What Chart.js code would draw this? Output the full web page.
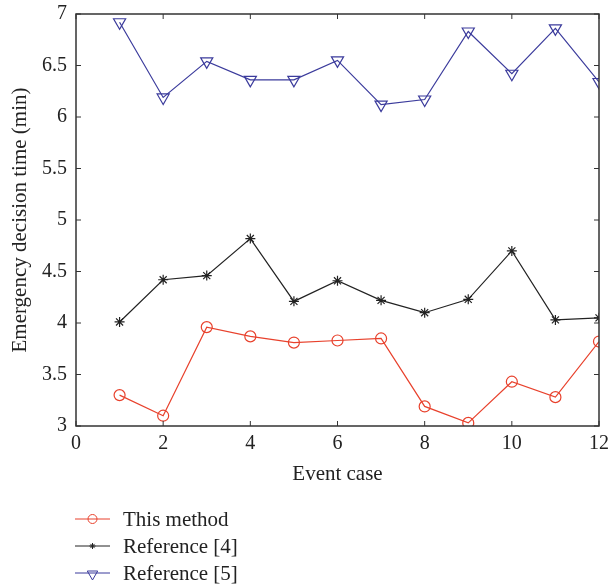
<!DOCTYPE html>
<html>
<head>
<meta charset="utf-8">
<script src="https://cdn.jsdelivr.net/npm/chart.js@4"></script>
<style>
  html, body { margin: 0; padding: 0; background: #fff; }
  #wrap { width: 609px; height: 585px; }
</style>
</head>
<body>
<div id="wrap"><canvas id="chart" width="609" height="585"></canvas></div>
<script>
// data
const eventCases = [1, 2, 3, 4, 5, 6, 7, 8, 9, 10, 11, 12];
const thisMethod = [3.30, 3.10, 3.96, 3.87, 3.81, 3.83, 3.85, 3.19, 3.03, 3.43, 3.28, 3.82];
const reference4 = [4.01, 4.42, 4.46, 4.82, 4.21, 4.41, 4.22, 4.10, 4.23, 4.70, 4.03, 4.05];
const reference5 = [6.92, 6.19, 6.54, 6.36, 6.36, 6.55, 6.12, 6.17, 6.83, 6.42, 6.86, 6.34];
const seriesNames = ['This method', 'Reference [4]', 'Reference [5]'];

const red = '#e8412c';
const black = '#222222';
const blue = '#3b3b9c';
const axisColor = '#333333';
const fontFam = "'Liberation Serif', 'DejaVu Serif', serif";

const toPoints = vals => vals.map((v, i) => ({ x: eventCases[i], y: v }));

// box + inward ticks on all four sides, MATLAB style
const boxPlugin = {
    id: 'box',
    afterDraw(chart) {
        const { ctx, chartArea: a, scales } = chart;
        ctx.save();
        ctx.strokeStyle = axisColor;
        ctx.lineWidth = 1.5;
        ctx.strokeRect(a.left, a.top, a.right - a.left, a.bottom - a.top);
        ctx.lineWidth = 1;
        const len = 5;
        scales.x.ticks.forEach(t => {
            const px = scales.x.getPixelForValue(t.value);
            ctx.beginPath();
            ctx.moveTo(px, a.bottom); ctx.lineTo(px, a.bottom - len);
            ctx.moveTo(px, a.top); ctx.lineTo(px, a.top + len);
            ctx.stroke();
        });
        scales.y.ticks.forEach(t => {
            const py = scales.y.getPixelForValue(t.value);
            ctx.beginPath();
            ctx.moveTo(a.left, py); ctx.lineTo(a.left + len, py);
            ctx.moveTo(a.right, py); ctx.lineTo(a.right - len, py);
            ctx.stroke();
        });
        ctx.restore();
    }
};

// legend below the plot: line + marker + label
const legendPlugin = {
    id: 'lineLegend',
    afterDraw(chart) {
        const { ctx } = chart;
        ctx.save();
        ctx.font = '21px ' + fontFam;
        ctx.textBaseline = 'middle';
        chart.data.datasets.forEach((ds, i) => {
            const y = 519 + i * 27;
            ctx.strokeStyle = ds.borderColor;
            ctx.fillStyle = 'rgba(0,0,0,0)';
            ctx.lineWidth = 1;
            ctx.beginPath();
            ctx.moveTo(75, y); ctx.lineTo(110, y);
            ctx.stroke();
            Chart.helpers.drawPoint(ctx, {
                pointStyle: ds.pointStyle,
                rotation: ds.pointRotation || 0,
                radius: i === 1 ? 3 : (i === 2 ? 6 : 4.5),
                borderWidth: 1
            }, 92.5, i === 2 ? y + 1 : y);
            ctx.fillStyle = '#222';
            ctx.fillText(ds.label, 123, y + 1);
        });
        ctx.restore();
    }
};

const styles = [
    { color: red, pointStyle: 'circle', radius: 5.5, rot: 0 },
    { color: black, pointStyle: 'star', radius: 5, rot: 0 },
    { color: blue, pointStyle: 'triangle', radius: 7, rot: 180 }
];

const tickLabel = v => String(v);

new Chart(document.getElementById('chart'), {
    type: 'line',
    data: {
        datasets: [thisMethod, reference4, reference5].map((vals, i) => ({
            label: seriesNames[i],
            data: toPoints(vals),
            borderColor: styles[i].color,
            backgroundColor: 'rgba(0,0,0,0)',
            borderWidth: 1.2,
            pointStyle: styles[i].pointStyle,
            pointRadius: styles[i].radius,
            pointRotation: styles[i].rot,
            pointBorderWidth: 1.2,
            pointBorderColor: styles[i].color,
            pointBackgroundColor: 'rgba(0,0,0,0)',
            tension: 0
        }))
    },
    options: {
        responsive: false,
        animation: false,
        layout: { padding: { top: 14, right: 0, left: 0, bottom: 94 } },
        plugins: { legend: { display: false }, tooltip: { enabled: false } },
        scales: {
            x: {
                type: 'linear',
                min: 0, max: 12,
                ticks: { stepSize: 2, color: '#222', padding: 6, callback: tickLabel, font: { family: fontFam, size: 20 } },
                grid: { display: false, drawTicks: false },
                border: { display: false },
                title: { display: true, text: 'Event case', color: '#222', padding: { top: 4, bottom: 4 }, font: { family: fontFam, size: 21 } },
                afterFit(scale) {
                    scale.height = 65;
                    scale.paddingLeft = 0;
                    scale.paddingRight = 10;
                }
            },
            y: {
                min: 3, max: 7,
                ticks: { stepSize: 0.5, color: '#222', padding: 9, callback: tickLabel, font: { family: fontFam, size: 20 } },
                grid: { display: false, drawTicks: false },
                border: { display: false },
                title: { display: true, text: 'Emergency decision time (min)', color: '#222', padding: { top: 8, bottom: 4 }, font: { family: fontFam, size: 21 } },
                afterFit(scale) {
                    scale.width = 76;
                    scale.paddingTop = 0;
                    scale.paddingBottom = 0;
                }
            }
        }
    },
    plugins: [boxPlugin, legendPlugin]
});
</script>
</body>
</html>
